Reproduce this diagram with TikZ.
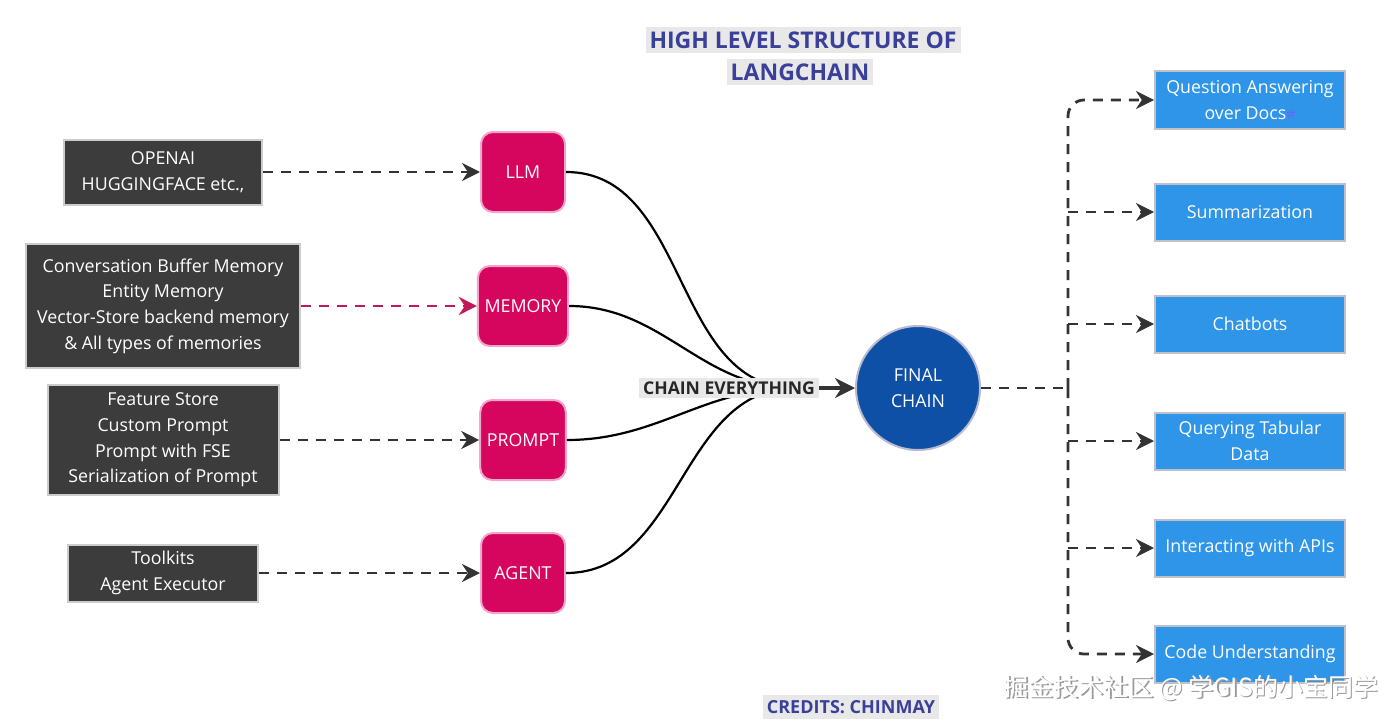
\documentclass[tikz,border=0pt]{standalone}
\usepackage{fontspec}
\setmainfont{Open Sans}
\newfontfamily\cjkfont{Noto Sans CJK SC}
\usetikzlibrary{arrows.meta}
\definecolor{srcgray}{HTML}{3C3C3C}
\definecolor{partpink}{HTML}{D6065F}
\definecolor{pinkline}{HTML}{F2A6C9}
\definecolor{memline}{HTML}{C2185B}
\definecolor{chainblue}{HTML}{0D50A6}
\definecolor{useblue}{HTML}{2E95E8}
\definecolor{titleblue}{HTML}{3A3F9A}
\definecolor{labelbg}{HTML}{E8E8E8}
\tikzset{%
    every node/.style={font=\fontsize{8.9}{12.8}\selectfont, align=center},
    srcbox/.style={rectangle, fill=srcgray, draw=gray!40, line width=1pt,
        text=white},
    partbox/.style={rectangle, rounded corners=6pt, fill=partpink,
        draw=pinkline, line width=1pt, text=white, minimum width=42pt,
        minimum height=40pt},
    usebox/.style={rectangle, fill=useblue, draw=blue!10!gray!45,
        line width=1pt, text=white, minimum width=95pt, minimum height=28.5pt},
    headtext/.style={fill=labelbg, text=titleblue, inner xsep=2pt,
        inner ysep=2.5pt, font=\fontsize{11.5}{16}\bfseries\selectfont},
    feed/.style={dashed, dash pattern=on 5pt off 4pt, line width=1.4pt,
        draw=black!80, -{Stealth[length=9pt, width=9pt]}},
}

\begin{document}
\begin{tikzpicture}[x=0.5pt, y=-0.5pt]
  \useasboundingbox (0, 0) rectangle (1400, 722);

  % title and credits
  \node (t1) [headtext] at (803, 40) {HIGH LEVEL STRUCTURE OF};
  \node (t2) [headtext] at (800, 72) {LANGCHAIN};
  \node (cr) [headtext, font=\fontsize{9}{12}\bfseries\selectfont]
    at (851, 707) {CREDITS: CHINMAY};

  % sources
  \node (s1) [srcbox, minimum width=99pt, minimum height=32.5pt]
    at (163, 172) {OPENAI\\HUGGINGFACE etc.,};
  \node (s2) [srcbox, minimum width=137pt, minimum height=62pt]
    at (163, 306) {Conversation Buffer Memory\\Entity Memory\\
      Vector-Store backend memory\\\& All types of memories};
  \node (s3) [srcbox, minimum width=115.5pt, minimum height=55pt]
    at (163, 440) {Feature Store\\Custom Prompt\\Prompt with FSE\\
      Serialization of Prompt};
  \node (s4) [srcbox, minimum width=95pt, minimum height=28.5pt]
    at (163, 573) {Toolkits\\Agent Executor};

  % parts
  \node (c1) [partbox] at (523, 172) {LLM};
  \node (c2) [partbox] at (523, 306) {MEMORY};
  \node (c3) [partbox] at (523, 440) {PROMPT};
  \node (c4) [partbox] at (523, 573) {AGENT};

  \draw (s1) edge [feed] (c1);
  \draw (s2) edge [feed, draw=memline] (c2);
  \draw (s3) edge [feed] (c3);
  \draw (s4) edge [feed] (c4);

  % chain
  \coordinate (hub) at (795, 388);
  \draw [line width=1.1pt] (c1) to [out=0, in=180] (hub);
  \draw [line width=1.1pt] (c2) to [out=0, in=180] (hub);
  \draw [line width=1.1pt] (c3) to [out=0, in=180] (hub);
  \draw [line width=1.1pt] (c4) to [out=0, in=180] (hub);

  \node (ce) [fill=labelbg, text=black!85, inner sep=2pt,
    font=\fontsize{8.8}{12}\bfseries\selectfont] at (729, 388) {CHAIN EVERYTHING};
  \node (fc) [circle, fill=chainblue, draw=blue!20!gray!45, line width=1pt,
    text=white, minimum size=62pt] at (918, 388) {FINAL\\CHAIN};

  \draw [line width=1.6pt, draw=black!80, -{Stealth[length=10pt, width=10pt]}]
    (ce) -- (fc);

  % uses
  \node (u1) [usebox] at (1250, 100) {Question Answering\\over
    Docs{\color{blue!60}\fontsize{7}{7}\selectfont\#}};
  \node (u2) [usebox] at (1250, 212) {Summarization};
  \node (u3) [usebox] at (1250, 324) {Chatbots};
  \node (u4) [usebox] at (1250, 441) {Querying Tabular\\Data};
  \node (u5) [usebox] at (1250, 548) {Interacting with APIs};
  \node (u6) [usebox] at (1250, 654) {Code Understanding};

  \coordinate (br) at (1068, 388);
  \draw [feed, -] (fc) -- (br);
  \draw [feed, rounded corners=8pt] (br) |- (u1);
  \draw [feed, rounded corners=8pt] (br) |- (u6);
  \draw (br |- u2) edge [feed] (u2);
  \draw (br |- u3) edge [feed] (u3);
  \draw (br |- u4) edge [feed] (u4);
  \draw (br |- u5) edge [feed] (u5);

  % watermark
  \node (wm0) [text=gray!80, font=\fontsize{12.5}{14}\cjkfont]
    at (1192.5, 689.5) {掘金技术社区 @ 学GIS的小宝同学};
  \node (wm) [text=white, font=\fontsize{12.5}{14}\cjkfont]
    at (1191, 688) {掘金技术社区 @ 学GIS的小宝同学};
\end{tikzpicture}
\end{document}
